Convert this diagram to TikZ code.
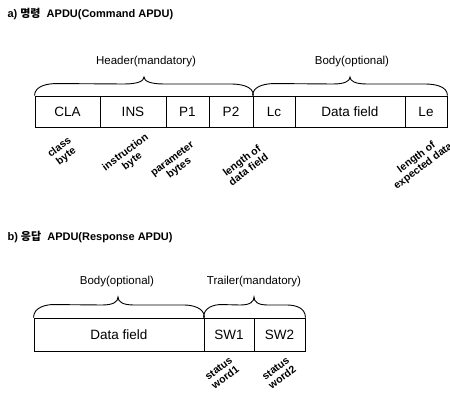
\documentclass[tikz,border=0pt]{standalone}
\usepackage{fontspec}
\setmainfont{Liberation Sans}
\newfontfamily\kr{Noto Sans CJK KR}
\begin{document}
\begin{tikzpicture}[x=1pt,y=-1pt,
  cell/.style={draw, line width=0.9pt, inner sep=0pt, minimum height=31pt, font=\fontsize{13.5}{15}\selectfont},
  cellb/.style={cell, minimum height=33pt},
  grp/.style={font=\fontsize{11.5}{13}\selectfont},
  ttl/.style={font=\bfseries\fontsize{11}{13}\selectfont, anchor=west},
  lbl/.style={font=\bfseries\fontsize{10.5}{11}\selectfont, align=center, rotate=37, inner sep=0pt},
  brace/.style={line width=0.9pt}]
\useasboundingbox (0,0) rectangle (450,393);
% ---- a) Command APDU
\node[ttl] (ta) at (4,14) {a) {\kr 명령}\ \ APDU(Command APDU)};
\node[cell, minimum width=65pt] (cla) at (67.5,111.5) {CLA};
\node[cell, minimum width=66pt] (ins) at (133,111.5) {INS};
\node[cell, minimum width=43pt] (p1) at (187.5,111.5) {P1};
\node[cell, minimum width=44pt] (p2) at (231,111.5) {P2};
\node[cell, minimum width=42pt] (lc) at (274,111.5) {Lc};
\node[cell, minimum width=110pt] (df) at (350,111.5) {Data field};
\node[cell, minimum width=42pt] (le) at (426,111.5) {Le};
\node[grp] (hdr) at (146,62) {Header(mandatory)};
\node[grp] (bdy) at (352,62) {Body(optional)};
% braces
\draw[brace] (cla.north west) .. controls +(0,-10) and +(-8,0) .. ++(22,-12)
  -- (124,84) .. controls (138,84) and (144,81) .. (144,77)
  .. controls (144,81) and (150,84) .. (164,84)
  -- (231,84) .. controls +(8,0) and +(0,-10) .. (p2.north east);
\draw[brace] (lc.north west) .. controls +(0,-10) and +(-8,0) .. ++(22,-12)
  -- (333,84) .. controls (345,84) and (350,81) .. (350,77)
  .. controls (350,81) and (355,84) .. (367,84)
  -- (425,84) .. controls +(8,0) and +(0,-10) .. (le.north east);
% rotated labels
\node[lbl] (l1) at (63,152) {class\\byte};
\node[lbl] (l2) at (129,157) {instruction\\byte};
\node[lbl] (l3) at (176,164) {parameter\\bytes};
\node[lbl] (l4) at (245,165) {length of\\data field};
\node[lbl] (l5) at (420,162) {length of\\expected data};
% ---- b) Response APDU
\node[ttl] (tb) at (4,237) {b) {\kr 응답}\ \ APDU(Response APDU)};
\node[cellb, minimum width=170pt] (rdf) at (119,334.5) {Data field};
\node[cellb, minimum width=50pt] (sw1) at (229,334.5) {SW1};
\node[cellb, minimum width=51pt] (sw2) at (279.5,334.5) {SW2};
\node[grp] (rbdy) at (117,282) {Body(optional)};
\node[grp] (trl) at (254,282) {Trailer(mandatory)};
\draw[brace] (rdf.north west) .. controls +(0,-10) and +(-8,0) .. ++(20,-13)
  -- (102,305) .. controls (113,305) and (118,302) .. (118,297)
  .. controls (118,302) and (123,305) .. (134,305)
  -- (184,305) .. controls +(8,0) and +(0,-10) .. (rdf.north east);
\draw[brace] (sw1.north west) .. controls +(0,-10) and +(-8,0) .. ++(18,-13)
  -- (240,305) .. controls (250,305) and (254,302) .. (254,297)
  .. controls (254,302) and (258,305) .. (268,305)
  -- (287,305) .. controls +(8,0) and +(0,-10) .. (sw2.north east);
\node[lbl] (s1) at (222,373) {status\\word1};
\node[lbl] (s2) at (279,373) {status\\word2};
\end{tikzpicture}
\end{document}
